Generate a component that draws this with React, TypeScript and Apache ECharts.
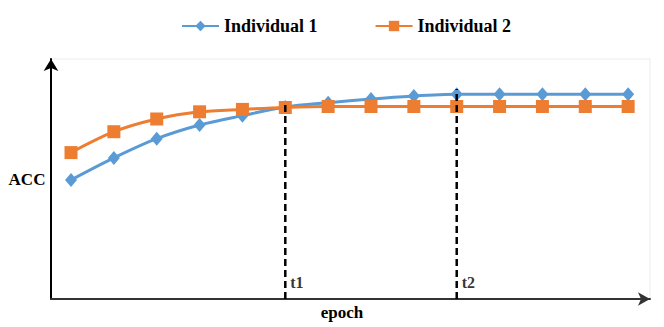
import React, { useEffect, useRef } from "react";
import * as echarts from "echarts";

const epochs = [1, 2, 3, 4, 5, 6, 7, 8, 9, 10, 11, 12, 13, 14];
const individual1 = [49.6, 58.8, 66.8, 72.5, 76.4, 80.0, 81.8, 83.3, 84.6, 85.3, 85.3, 85.3, 85.3, 85.3];
const individual2 = [61.0, 69.7, 75.0, 78.0, 79.0, 79.8, 80.2, 80.2, 80.2, 80.2, 80.2, 80.2, 80.2, 80.2];
const markers = ["t1", "t2"];
const markerEpochs = [6, 10];
const markerTops = [82, 87.5];
const markerLabelY = 6.7;

const FONT = "'Liberation Serif', 'Times New Roman', serif";

export default function App() {
  const ref = useRef<HTMLDivElement>(null);
  useEffect(() => {
    if (!ref.current) return;
    const chart = echarts.init(ref.current, null, { renderer: "svg" });
    const dashSeries = markerEpochs.map((e, i) => ({
      name: "marker-" + markers[i],
      type: "line",
      data: [
        [e, 0],
        [e, markerTops[i]],
      ],
      symbol: "none",
      lineStyle: { color: "#000", width: 2.5, type: [7, 4] },
      z: 10,
      silent: true,
    }));
    chart.setOption({
      animation: false,
      backgroundColor: "#fff",
      textStyle: { fontFamily: FONT },
      legend: {
        data: ["Individual 1", "Individual 2"],
        top: 12,
        left: 176,
        itemWidth: 37,
        itemHeight: 13,
        itemGap: 57,
        textStyle: { fontFamily: FONT, fontWeight: "bold", fontSize: 18, color: "#000" },
      },
      grid: {
        left: 51,
        right: 14,
        top: 59,
        bottom: 28,
        show: true,
        borderColor: "#ececec",
        borderWidth: 1,
        outerBoundsMode: "none",
      },
      xAxis: {
        type: "value",
        min: 0.533,
        max: 14.51,
        splitLine: { show: false },
        axisTick: { show: false },
        axisLabel: { show: false },
        axisLine: {
          lineStyle: { color: "#333", width: 2 },
          symbol: ["none", "arrow"],
          symbolSize: [10, 12],
        },
        name: "epoch",
        nameLocation: "middle",
        nameGap: 13,
        nameTextStyle: {
          fontFamily: FONT,
          fontWeight: "bold",
          fontSize: 17,
          color: "#000",
          verticalAlign: "middle",
          padding: [0, 17, 0, 0],
        },
      },
      yAxis: {
        type: "value",
        min: 0,
        max: 100,
        splitLine: { show: false },
        axisTick: { show: false },
        axisLabel: { show: false },
        axisLine: {
          show: true,
          lineStyle: { color: "#000", width: 2 },
          symbol: ["none", "arrow"],
          symbolSize: [11, 12],
        },
        name: "ACC",
        nameLocation: "middle",
        nameRotate: 0,
        nameGap: 24,
        nameTextStyle: {
          fontFamily: FONT,
          fontWeight: "bold",
          fontSize: 17,
          color: "#000",
          align: "center",
          verticalAlign: "middle",
          padding: [0, 0, 32, 0],
        },
      },
      series: [
        {
          name: "Individual 1",
          type: "line",
          data: epochs.map((e, i) => [e, individual1[i]]),
          smooth: 0.3,
          symbol: "diamond",
          symbolSize: [12, 14],
          itemStyle: { color: "#5B9BD5" },
          lineStyle: { color: "#5B9BD5", width: 3 },
          z: 3,
        },
        {
          name: "Individual 2",
          type: "line",
          data: epochs.map((e, i) => [e, individual2[i]]),
          smooth: 0.3,
          symbol: "rect",
          symbolSize: 13,
          itemStyle: { color: "#ED7D31" },
          lineStyle: { color: "#ED7D31", width: 3 },
          z: 4,
        },
        ...dashSeries,
        {
          name: "marker-labels",
          type: "scatter",
          data: markerEpochs.map((e, i) => [e, markerLabelY, markers[i]]),
          symbolSize: 0,
          silent: true,
          z: 11,
          label: {
            show: true,
            position: "right",
            distance: 5,
            formatter: (p: any) => p.value[2],
            fontFamily: FONT,
            fontWeight: "bold",
            fontSize: 16,
            color: "#000",
          },
        },
      ],
    });
    return () => chart.dispose();
  }, []);
  return <div ref={ref} style={{ width: 664, height: 327, position: "absolute", left: 0, top: 0 }} />;
}
